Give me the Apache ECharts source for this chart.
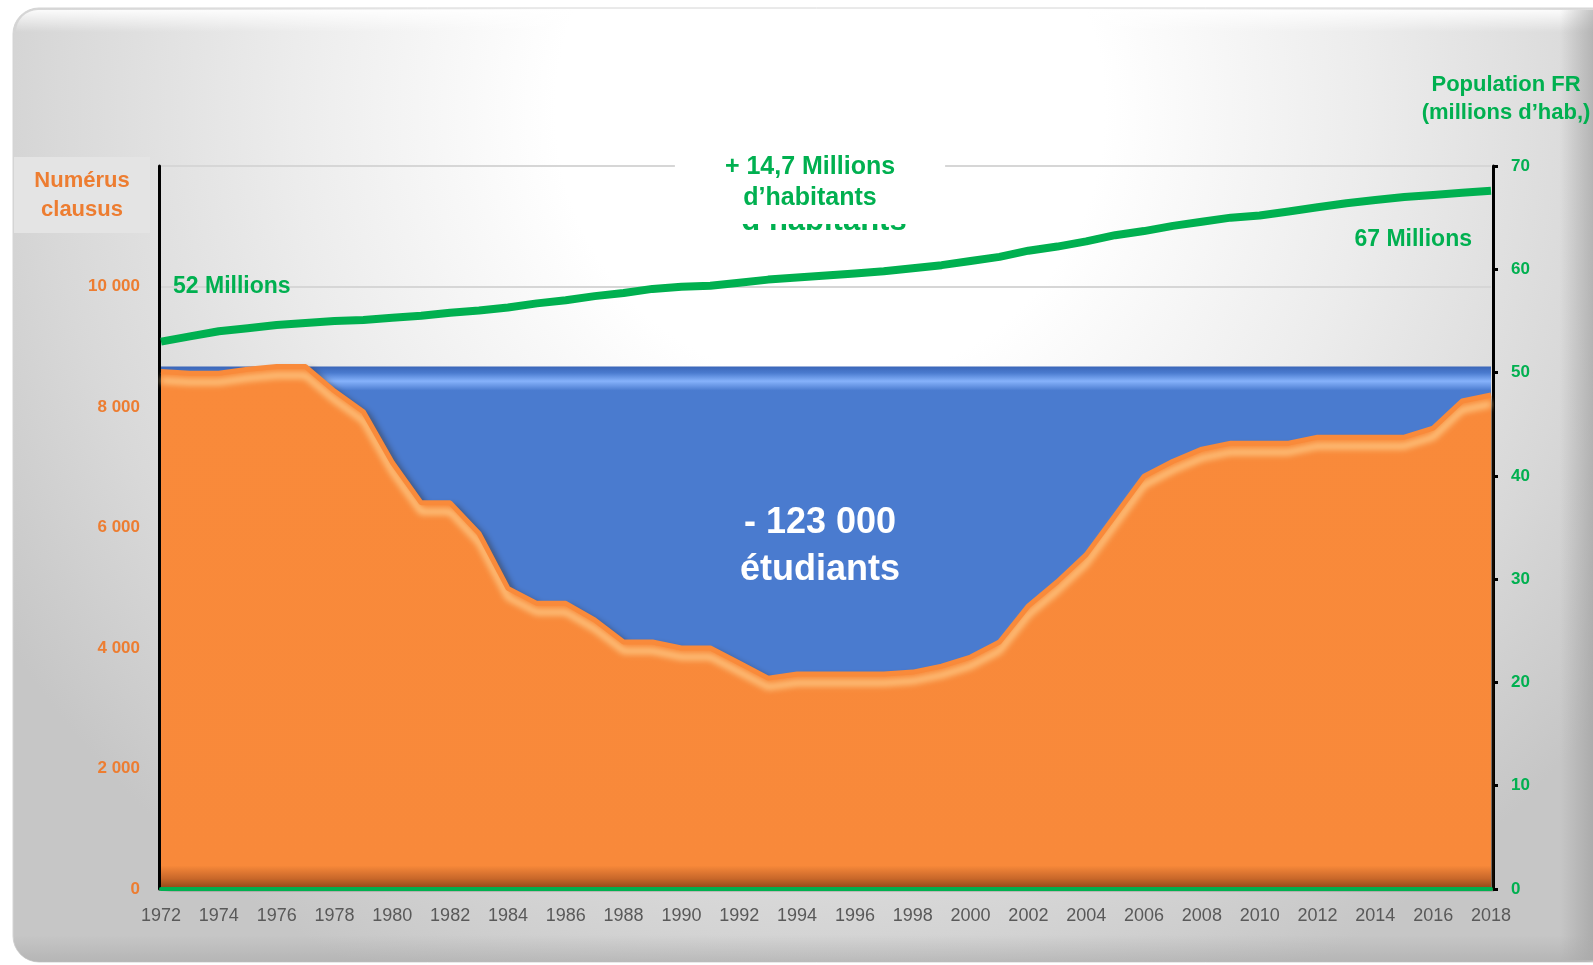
<!DOCTYPE html>
<html>
<head>
<meta charset="utf-8">
<script src="https://cdn.jsdelivr.net/npm/echarts@6/dist/echarts.min.js"></script>
<style>
html,body{margin:0;padding:0;background:#ffffff;}
#chart{width:1593px;height:965px;}
</style>
</head>
<body>
<div id="chart"></div>
<script>
const years = ['1972','1973','1974','1975','1976','1977','1978','1979','1980','1981','1982','1983','1984','1985','1986','1987','1988','1989','1990','1991','1992','1993','1994','1995','1996','1997','1998','1999','2000','2001','2002','2003','2004','2005','2006','2007','2008','2009','2010','2011','2012','2013','2014','2015','2016','2017','2018'];

const numerusClausus = [8588, 8560, 8560, 8625, 8671, 8671, 8265, 7922, 7078, 6409, 6409, 5900, 4990, 4741, 4741, 4465, 4100, 4100, 4000, 4000, 3750, 3500, 3570, 3570, 3570, 3570, 3600, 3700, 3850, 4100, 4700, 5100, 5550, 6200, 6850, 7100, 7300, 7400, 7400, 7400, 7500, 7500, 7500, 7500, 7650, 8100, 8200];

const niveau1972 = [8671, 8671, 8671, 8671, 8671, 8671, 8671, 8671, 8671, 8671, 8671, 8671, 8671, 8671, 8671, 8671, 8671, 8671, 8671, 8671, 8671, 8671, 8671, 8671, 8671, 8671, 8671, 8671, 8671, 8671, 8671, 8671, 8671, 8671, 8671, 8671, 8671, 8671, 8671, 8671, 8671, 8671, 8671, 8671, 8671, 8671, 8671];

const populationFR = [53.0, 53.5, 54.0, 54.3, 54.6, 54.8, 55.0, 55.1, 55.3, 55.5, 55.8, 56.0, 56.3, 56.7, 57.0, 57.4, 57.7, 58.1, 58.3, 58.4, 58.7, 59.0, 59.2, 59.4, 59.6, 59.8, 60.1, 60.4, 60.8, 61.2, 61.8, 62.2, 62.7, 63.3, 63.7, 64.2, 64.6, 65.0, 65.2, 65.6, 66.0, 66.4, 66.7, 67.0, 67.2, 67.4, 67.6];

const leftTicks = [0, 2000, 4000, 6000, 8000, 10000];
const rightTicks = [0, 10, 20, 30, 40, 50, 60, 70];

const FONT = "'Liberation Sans', Arial, sans-serif";
const ORANGE_TXT = '#ed7d31';
const GREEN = '#00b050';

const chart = echarts.init(document.getElementById('chart'), null, {renderer: 'canvas'});

function fmtThousands(v) {
  return String(v).replace(/\B(?=(\d{3})+(?!\d))/g, ' ');
}

const option = {
  animation: false,
  backgroundColor: '#ffffff',
  textStyle: {fontFamily: FONT},
  graphic: [
    {
      type: 'rect', z: -10, silent: true,
      shape: {x: 13, y: 8, width: 1610, height: 954, r: 26},
      style: {
        fill: new echarts.graphic.RadialGradient(830, 110, 980, [
          {offset: 0, color: '#ffffff'},
          {offset: 0.28, color: '#ffffff'},
          {offset: 0.55, color: '#ececec'},
          {offset: 0.8, color: '#d8d8d8'},
          {offset: 1, color: '#c6c6c6'}
        ], true),
        stroke: '#d4d4d4', lineWidth: 1
      }
    },
    {
      type: 'rect', z: -9, silent: true,
      shape: {x: 16, y: 10, width: 1600, height: 22, r: [24, 24, 0, 0]},
      style: {
        fill: new echarts.graphic.LinearGradient(0, 0, 0, 1, [
          {offset: 0, color: 'rgba(255,255,255,0.9)'},
          {offset: 1, color: 'rgba(255,255,255,0)'}
        ])
      }
    },
    {
      type: 'rect', z: -9, silent: true,
      shape: {x: 1560, y: 10, width: 33, height: 950},
      style: {
        fill: new echarts.graphic.LinearGradient(0, 0, 1, 0, [
          {offset: 0, color: 'rgba(150,150,150,0)'},
          {offset: 1, color: 'rgba(150,150,150,0.55)'}
        ])
      }
    },
    {
      type: 'rect', z: -9, silent: true,
      shape: {x: 13, y: 935, width: 1600, height: 27, r: [0, 0, 26, 26]},
      style: {
        fill: new echarts.graphic.LinearGradient(0, 0, 0, 1, [
          {offset: 0, color: 'rgba(170,170,170,0)'},
          {offset: 1, color: 'rgba(170,170,170,0.6)'}
        ])
      }
    },
    {
      type: 'rect', z: -5, silent: true,
      shape: {x: 14, y: 157, width: 136, height: 76},
      style: {fill: '#e4e4e4'}
    },
    {
      type: 'text', z: 10, silent: true,
      style: {
        x: 82, y: 195, text: 'Numérus\nclausus', align: 'center', verticalAlign: 'middle',
        font: 'bold 22px ' + FONT, fill: ORANGE_TXT, lineHeight: 29
      }
    },
    {
      type: 'text', z: 10, silent: true,
      style: {
        x: 1506, y: 99, text: 'Population FR\n(millions d\u2019hab,)', align: 'center', verticalAlign: 'middle',
        font: 'bold 22px ' + FONT, fill: GREEN, lineHeight: 28
      }
    },
    {
      type: 'text', z: 9, silent: true,
      style: {
        x: 824, y: 237, text: 'd\u2019habitants', align: 'center', verticalAlign: 'bottom',
        font: 'bold 31px ' + FONT, fill: GREEN
      }
    },
    {
      type: 'text', z: 10, silent: true,
      style: {
        x: 810, y: 183, text: '+ 14,7 Millions\nd\u2019habitants', align: 'center', verticalAlign: 'middle',
        font: 'bold 25px ' + FONT, fill: GREEN, lineHeight: 31,
        backgroundColor: '#ffffff', padding: [2, 50, 18, 50]
      }
    },
    {
      type: 'text', z: 10, silent: true,
      style: {
        x: 173, y: 287, text: '52 Millions', align: 'left', verticalAlign: 'middle',
        font: 'bold 23px ' + FONT, fill: GREEN
      }
    },
    {
      type: 'text', z: 10, silent: true,
      style: {
        x: 1472, y: 240, text: '67 Millions', align: 'right', verticalAlign: 'middle',
        font: 'bold 23px ' + FONT, fill: GREEN
      }
    },
    {
      type: 'text', z: 10, silent: true,
      style: {
        x: 820, y: 547, text: '- 123 000\nétudiants', align: 'center', verticalAlign: 'middle',
        font: 'bold 36px ' + FONT, fill: '#ffffff', lineHeight: 47
      }
    }
  ],
  grid: {left: 161, right: 102, top: 166, bottom: 76, containLabel: false},
  xAxis: {
    type: 'category',
    data: years,
    boundaryGap: false,
    axisLine: {show: true, lineStyle: {color: GREEN, width: 4}},
    axisTick: {show: false},
    axisLabel: {interval: 1, color: '#595959', fontSize: 18, margin: 18, fontFamily: FONT},
    splitLine: {show: false},
    z: 5
  },
  yAxis: [
    {
      type: 'value', min: 0, max: 12000, interval: 2000, offset: 2,
      axisLine: {show: true, lineStyle: {color: '#000000', width: 3}},
      axisTick: {show: false},
      axisLabel: {
        color: ORANGE_TXT, fontSize: 17, fontWeight: 'bold', margin: 19, fontFamily: FONT,
        formatter: function (v) { return leftTicks.indexOf(v) >= 0 ? fmtThousands(v) : ''; }
      },
      splitLine: {show: true, lineStyle: {color: '#d6d6d6', width: 2}},
      z: 0
    },
    {
      type: 'value', min: 0, max: 70, interval: 10, position: 'right', offset: 2,
      axisLine: {show: true, lineStyle: {color: '#000000', width: 3}},
      axisTick: {show: true, inside: false, length: 5, lineStyle: {color: '#000000', width: 3}},
      axisLabel: {
        color: GREEN, fontSize: 17, fontWeight: 'bold', margin: 18, fontFamily: FONT,
        formatter: function (v) { return rightTicks.indexOf(v) >= 0 ? String(v) : ''; }
      },
      splitLine: {show: false},
      z: 0
    }
  ],
  series: [
    {
      name: 'Niveau 1972',
      type: 'line',
      data: niveau1972,
      yAxisIndex: 0,
      symbol: 'none',
      z: 2,
      lineStyle: {width: 0, color: '#4a7bcf'},
      areaStyle: {
        opacity: 1,
        color: new echarts.graphic.LinearGradient(0, 0, 0, 1, [
          {offset: 0, color: '#3b66b8'},
          {offset: 0.012, color: '#4a7bcf'},
          {offset: 0.028, color: '#86b2fb'},
          {offset: 0.046, color: '#4a7bcf'},
          {offset: 1, color: '#4a7bcf'}
        ])
      }
    },
    {
      name: 'Numérus clausus',
      type: 'line',
      data: numerusClausus,
      yAxisIndex: 0,
      symbol: 'none',
      z: 3,
      lineStyle: {
        width: 5, color: '#f98a3a',
        shadowColor: 'rgba(255,215,150,0.95)', shadowBlur: 6, shadowOffsetY: 9
      },
      areaStyle: {
        opacity: 1,
        color: new echarts.graphic.LinearGradient(0, 0, 0, 1, [
          {offset: 0, color: '#f98a3a'},
          {offset: 0.955, color: '#f8893a'},
          {offset: 0.98, color: '#c8672a'},
          {offset: 1, color: '#8c4718'}
        ]),
        shadowColor: 'rgba(40,20,0,0.55)', shadowBlur: 7, shadowOffsetX: 6, shadowOffsetY: 3
      }
    },
    {
      name: 'Population FR',
      type: 'line',
      data: populationFR,
      yAxisIndex: 1,
      symbol: 'none',
      z: 4,
      lineStyle: {width: 8, color: GREEN}
    }
  ]
};

chart.setOption(option);
</script>
</body>
</html>
